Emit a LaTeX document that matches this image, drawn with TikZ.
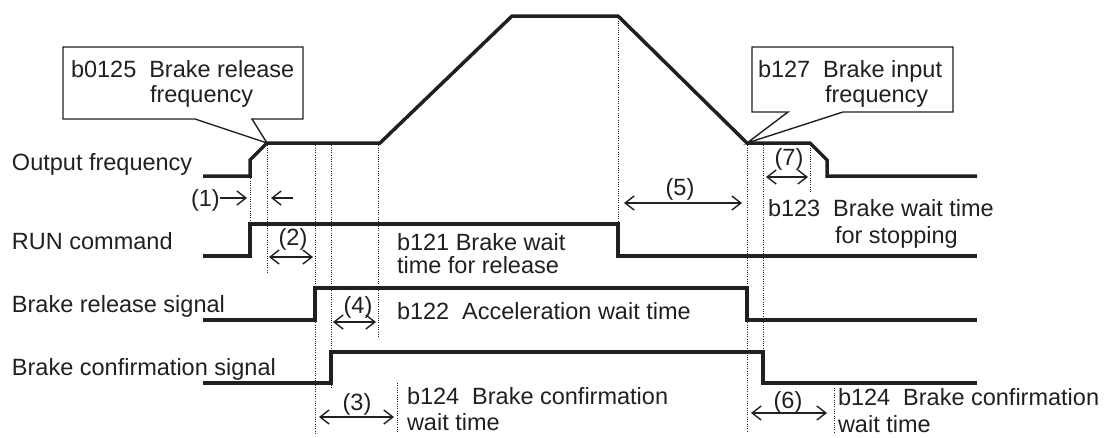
\documentclass[tikz,border=0pt]{standalone}
\usepackage{fontspec}
\setmainfont{Liberation Sans}
\usetikzlibrary{arrows.meta}
\definecolor{ink}{RGB}{35,31,32}
\begin{document}
\begin{tikzpicture}[x=1pt,y=-1pt,
  every node/.style={inner sep=0pt, outer sep=0pt, text=ink, font=\fontsize{23.5}{28}\selectfont},
  lbl/.style={anchor=base west},
  num/.style={anchor=base},
  wave/.style={draw=ink, line width=3.5pt, line join=miter},
  guide/.style={draw=ink, line width=0.9pt, dash pattern=on 0.9pt off 1.4pt},
  dim/.style={draw=ink, line width=1.4pt, {Straight Barb[length=9pt,width=14pt]}-{Straight Barb[length=9pt,width=14pt]}},
  sarrow/.style={draw=ink, line width=1.4pt, -{Straight Barb[length=9pt,width=14pt]}},
  callout/.style={draw=ink, line width=1.4pt, fill=white, line join=miter}]
\useasboundingbox (0,0) rectangle (1107,437);

% guide (dotted) lines
\draw[guide] (250,176) -- (250,224);
\draw[guide] (267,143) -- (267,273);
\draw[guide] (315,143) -- (315,435);
\draw[guide] (331,143) -- (331,387);
\draw[guide] (378,143) -- (378,337);
\draw[guide] (397,383) -- (397,433);
\draw[guide] (618,16) -- (618,224);
\draw[guide] (747,143) -- (747,432);
\draw[guide] (763,143) -- (763,353);
\draw[guide] (810,143) -- (810,192);
\draw[guide] (834,388) -- (834,432);

% callouts
\draw[callout] (63,47) -- (303,47) -- (303,119) -- (252,119) -- (267,143) -- (195,119) -- (63,119) -- cycle;
\draw[callout] (752,47) -- (953,47) -- (953,112) -- (843,112) -- (747,143) -- (788,112) -- (752,112) -- cycle;
\node[lbl] (c1a) at (71,77) {b0125\hspace{0.55em}Brake release};
\node[lbl] (c1b) at (150,102) {frequency};
\node[lbl] (c2a) at (758,77) {b127\hspace{0.55em}Brake input};
\node[lbl] (c2b) at (825,102) {frequency};

% waveforms
\draw[wave] (203,176) -- (250,176) -- (250,160) -- (267,143) -- (380,143) -- (512,16) -- (618,16)
  -- (747,143) -- (810,143) -- (827,160) -- (827,176) -- (977,176);
\draw[wave] (203,256) -- (250,256) -- (250,224) -- (618,224) -- (618,256) -- (977,256);
\draw[wave] (203,320) -- (315,320) -- (315,288) -- (747,288) -- (747,320) -- (977,320);
\draw[wave] (203,383) -- (331,383) -- (331,352) -- (763,352) -- (763,383) -- (977,383);

% signal names
\node[lbl] (sOut) at (12,170) {Output frequency};
\node[lbl] (sRun) at (12,249) {RUN command};
\node[lbl] (sRel) at (12,312) {Brake release signal};
\node[lbl] (sCon) at (12,375) {Brake confirmation signal};

% parameter texts
\node[lbl] (t121a) at (397,250) {b121 Brake wait};
\node[lbl] (t121b) at (397,273) {time for release};
\node[lbl] (t122) at (397,319) {b122\hspace{0.55em}Acceleration wait time};
\node[lbl] (t124a) at (407,404) {b124\hspace{0.55em}Brake confirmation};
\node[lbl] (t124b) at (407,430) {wait time};
\node[lbl] (t123a) at (768,216) {b123\hspace{0.55em}Brake wait time};
\node[lbl] (t123b) at (835,243) {for stopping};
\node[lbl] (t124c) at (838,405) {b124\hspace{0.55em}Brake confirmation};
\node[lbl] (t124d) at (838,432) {wait time};

% interval labels
\node[lbl] (n1) at (191,206) {(1)};
\node[num] (n2) at (293,245) {(2)};
\node[num] (n4) at (358,313) {(4)};
\node[num] (n3) at (357,410) {(3)};
\node[num] (n5) at (680,195) {(5)};
\node[num] (n7) at (789,165) {(7)};
\node[num] (n6) at (788,408) {(6)};

% interval arrows
\coordinate (a1s) at (220,198); \coordinate (a1e) at (247,198);
\coordinate (b1s) at (293,198); \coordinate (b1e) at (271,198);
\draw[sarrow] (a1s) -- (a1e);
\draw[sarrow] (b1s) -- (b1e);
\coordinate (a2l) at (269,257); \coordinate (a2r) at (313,257);
\draw[dim] (a2l) -- (a2r);
\coordinate (a4l) at (333,322); \coordinate (a4r) at (376,322);
\draw[dim] (a4l) -- (a4r);
\coordinate (a3l) at (319,417); \coordinate (a3r) at (394,417);
\draw[dim] (a3l) -- (a3r);
\coordinate (a5l) at (624,203); \coordinate (a5r) at (742,203);
\draw[dim] (a5l) -- (a5r);
\coordinate (a7l) at (766,177); \coordinate (a7r) at (808,177);
\draw[dim] (a7l) -- (a7r);
\coordinate (a6l) at (751,413); \coordinate (a6r) at (827,413);
\draw[dim] (a6l) -- (a6r);
\end{tikzpicture}
\end{document}
